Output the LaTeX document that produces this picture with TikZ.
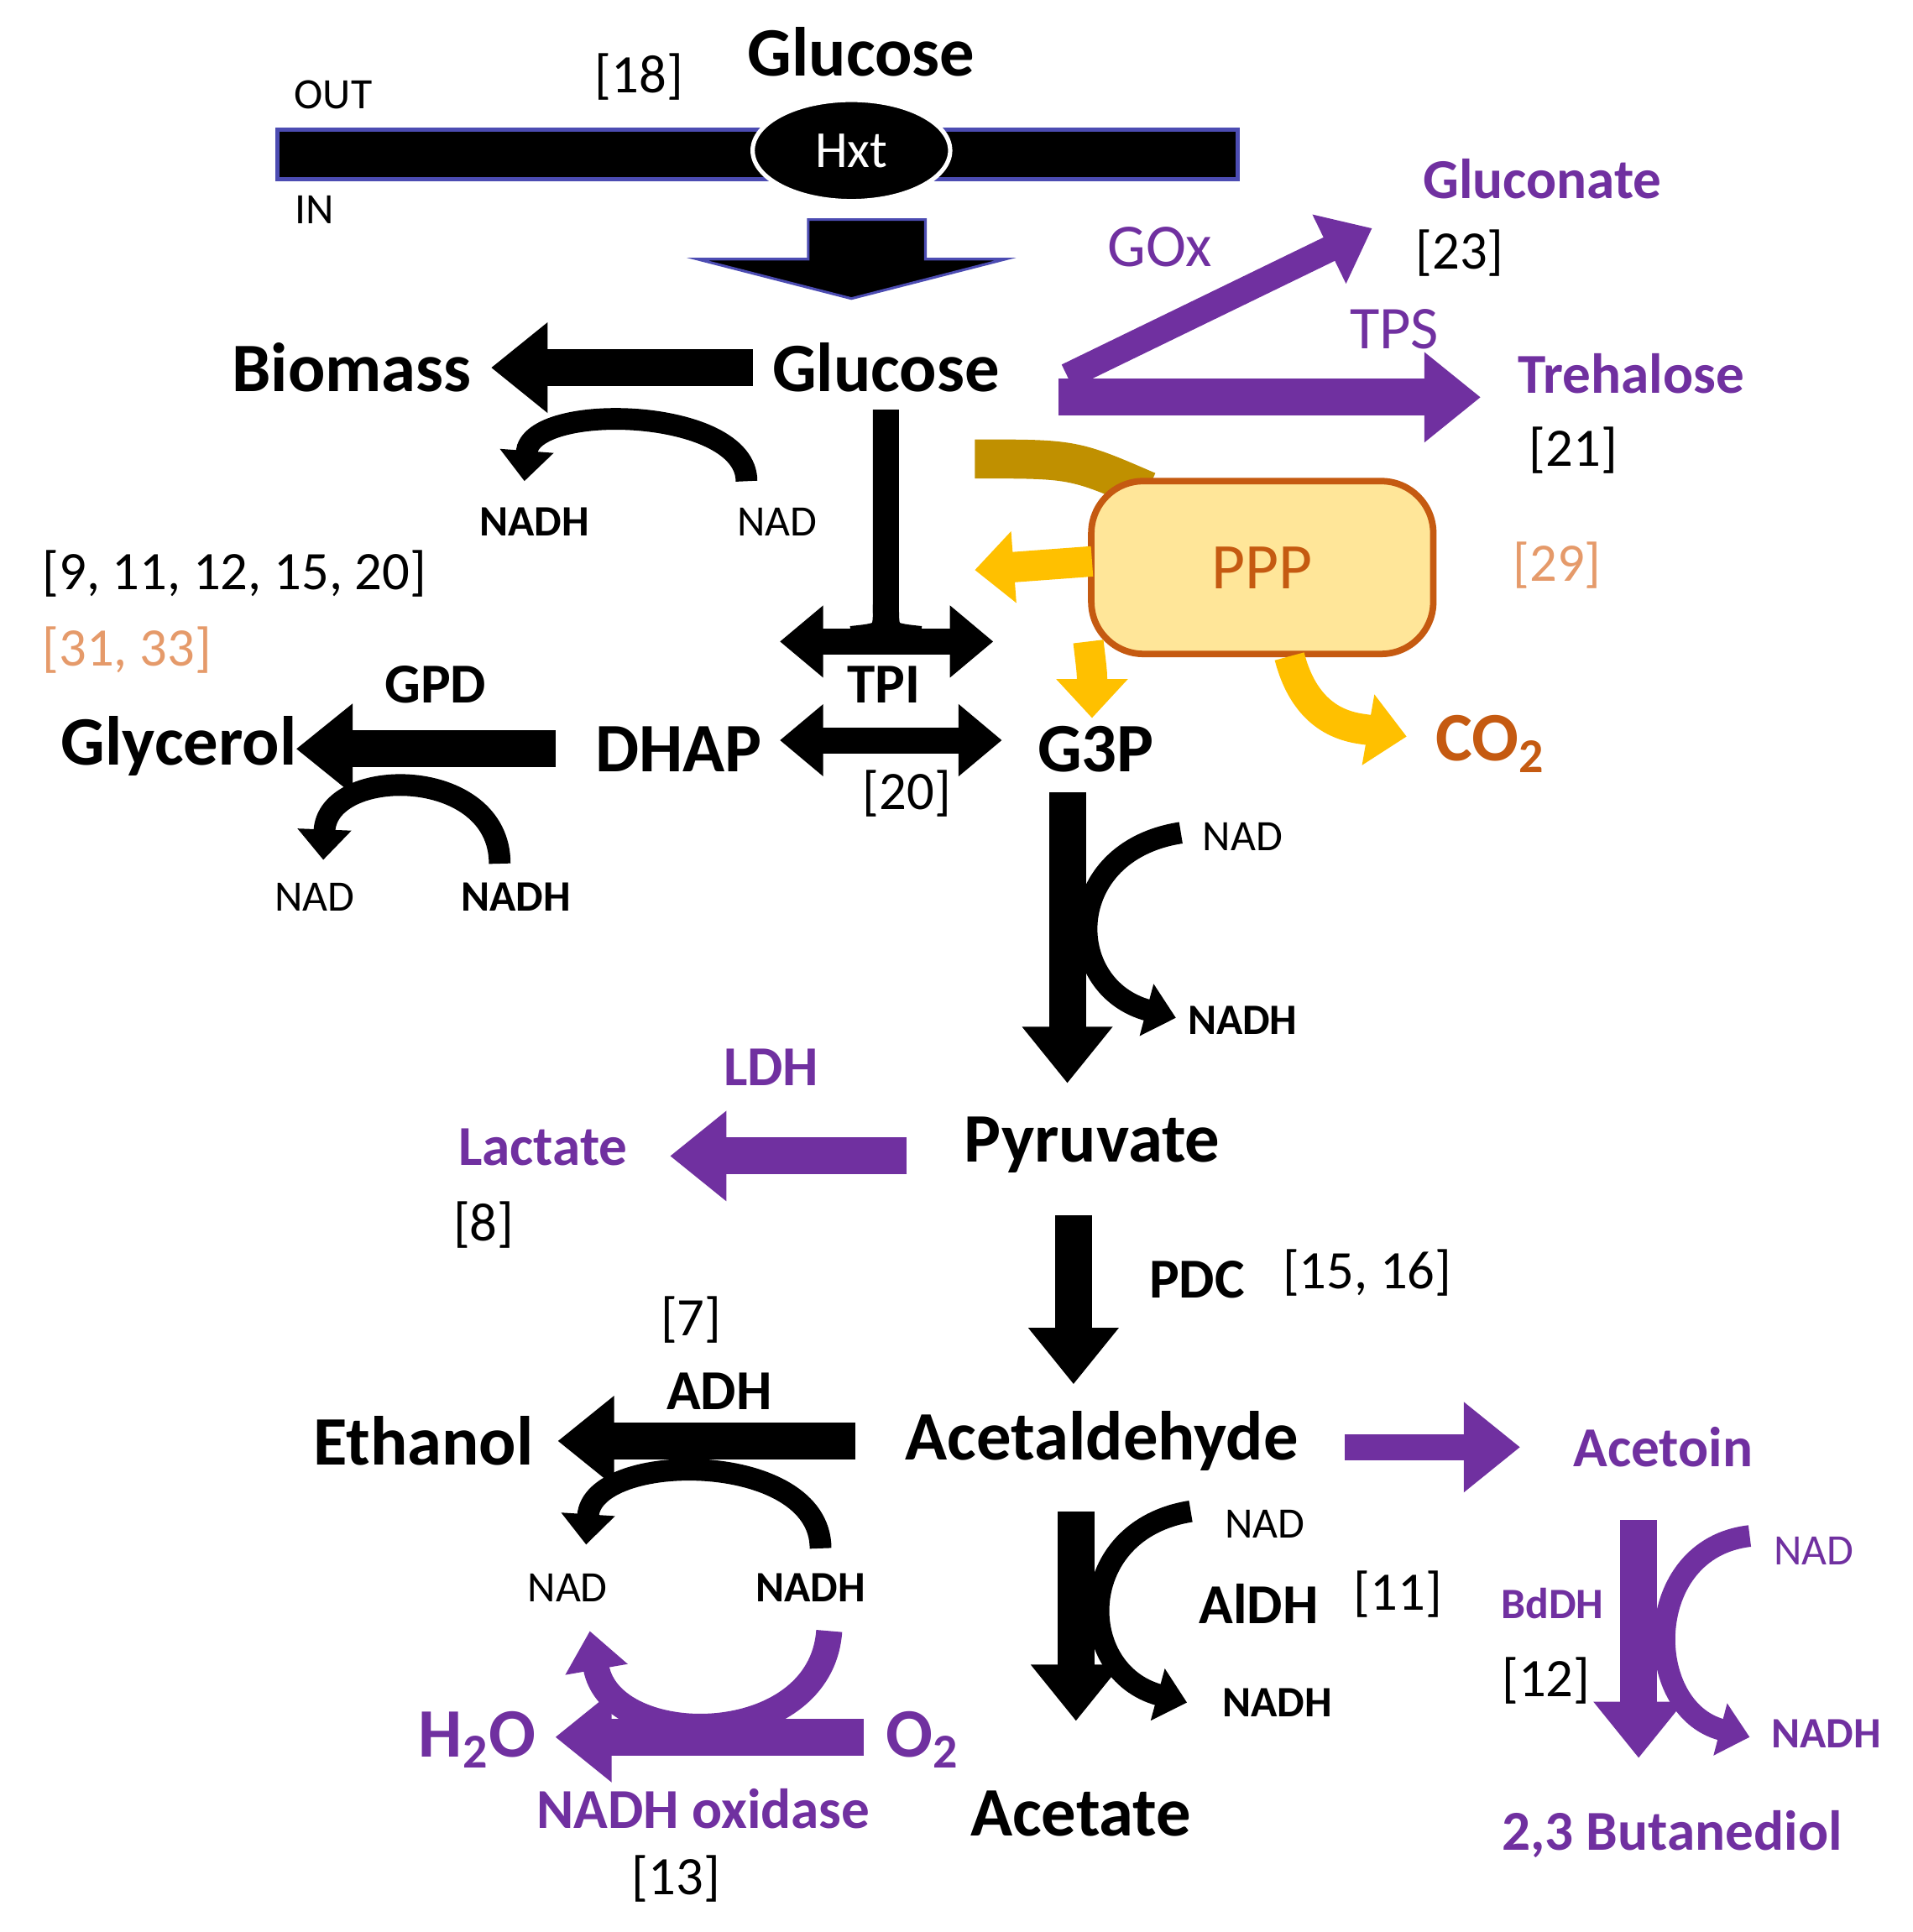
\documentclass[tikz,border=0pt]{standalone}
\usepackage{fontspec}
\setmainfont{Carlito}
\usetikzlibrary{arrows.meta,shapes.geometric}
\definecolor{pur}{HTML}{7030A0}
\definecolor{org}{HTML}{C55A11}
\definecolor{lorg}{HTML}{E59A6A}
\definecolor{gold}{HTML}{FFC000}
\definecolor{dgold}{HTML}{C09000}
\definecolor{pbox}{HTML}{FFE699}
\tikzset{
  big/.style={font=\fontsize{16}{18}\selectfont\bfseries},
  mid/.style={font=\fontsize{12}{14}\selectfont},
  midb/.style={font=\fontsize{13}{15}\selectfont\bfseries},
  sm/.style={font=\fontsize{10}{12}\selectfont},
  smb/.style={font=\fontsize{10}{12}\selectfont\bfseries},
  ref/.style={font=\fontsize{12.5}{14}\selectfont},
  fat/.style={line width=8.5pt,-{Triangle[length=13pt,width=20pt]}},
  fatpur/.style={fat,pur},
  twin/.style={line width=6pt,{Triangle[length=10pt,width=16pt]}-{Triangle[length=10pt,width=16pt]}},
  curvar/.style={line width=5pt,-{Triangle[length=7pt,width=12pt]}},
  orar/.style={line width=7pt,gold,-{Triangle[length=9pt,width=16pt]}},
}
\begin{document}
\begin{tikzpicture}[x=0.01cm,y=-0.01cm]
\useasboundingbox (0,0) rectangle (1550,1566);
% membrane
\draw[fill=black,draw=blue!40!gray,line width=1pt] (225,105) rectangle (1003,145);
\node[ellipse,fill=black,draw=white,line width=1pt,minimum width=1.6cm,minimum height=0.82cm,inner sep=0pt,text=white,mid] (hxt) at (690,122) {Hxt};
\node[sm] (out) at (270,77) {OUT};
\node[sm] (in) at (255,170) {IN};
\node[ref] (r18) at (518,62) {[18]};
\node[big] (glcout) at (698,42) {Glucose};
% big down arrow
\fill[black,draw=blue!40!gray,line width=0.6pt] (655,178)--(750,178)--(750,210)--(815,210)--(690,242)--(565,210)--(655,210)--cycle;
% glucose row
\node[big] (glc) at (718,298) {Glucose};
\node[big] (bio) at (285,298) {Biomass};
\draw[fat] (610,298)--(398,298);
\draw[curvar] (605,390) .. controls (605,330) and (430,325) .. (425,390);
\node[sm] (nad1) at (630,423) {NAD};
\node[smb] (nadh1) at (433,423) {NADH};
\node[ref,anchor=west] (rr1) at (22,465) {[9, 11, 12, 15, 20]};
\node[ref,anchor=west,text=lorg] (rr2) at (22,527) {[31, 33]};
% glucose split
\draw[line width=6pt] (718,332)--(718,490) .. controls (718,515) .. (690,518);
\draw[line width=6pt] (718,490) .. controls (718,515) .. (746,518);
\draw[twin] (632,520)--(805,520);
\node[midb] (tpi) at (716,555) {TPI};
\node[big] (dhap) at (550,607) {DHAP};
\node[big] (g3p) at (888,607) {G3P};
\draw[twin] (632,600)--(812,600);
\node[ref] (r20) at (735,643) {[20]};
% glycerol
\node[big] (gly) at (145,605) {Glycerol};
\draw[fat] (450,607)--(240,607);
\node[midb] (gpd) at (353,555) {GPD};
\draw[curvar] (405,700) .. controls (405,620) and (265,620) .. (262,697);
\node[sm] (nad2) at (255,727) {NAD};
\node[smb] (nadh2) at (418,727) {NADH};
% G3P -> pyruvate
\draw[fat] (865,642)--(865,878);
\draw[curvar] (957,675) .. controls (860,690) and (860,800) .. (953,825);
\node[sm] (nad3) at (1007,678) {NAD};
\node[smb] (nadh3) at (1007,827) {NADH};
\node[big] (pyr) at (885,928) {Pyruvate};
\node[midb,text=pur] (lac) at (440,930) {Lactate};
\draw[fatpur] (735,937)--(543,937);
\node[midb,text=pur] (ldh) at (625,865) {LDH};
\node[ref] (r8) at (392,993) {[8]};
% PDC
\draw[fat] (870,985)--(870,1122);
\node[midb] (pdc) at (970,1037) {PDC};
\node[ref] (r1516) at (1108,1032) {[15, 16]};
\node[big] (acal) at (893,1168) {Acetaldehyde};
\node[big] (eth) at (343,1168) {Ethanol};
\draw[fat] (693,1168)--(452,1168);
\node[midb] (adh) at (583,1128) {ADH};
\node[ref] (r7) at (560,1070) {[7]};
\draw[curvar] (665,1255) .. controls (665,1175) and (480,1175) .. (475,1252);
\node[sm] (nad4) at (460,1287) {NAD};
\node[smb] (nadh4) at (657,1287) {NADH};
% NADH oxidase
\draw[line width=6pt,pur,-{Triangle[length=9pt,width=14pt]}] (672,1322) .. controls (665,1420) and (495,1420) .. (478,1322);
\node[big,text=pur] (h2o) at (387,1410) {H$_\mathbf{2}$O};
\node[big,text=pur] (o2) at (748,1410) {O$_\mathbf{2}$};
\draw[fatpur] (700,1408)--(450,1408);
\node[midb,text=pur] (nox) at (570,1466) {NADH oxidase};
\node[ref] (r13) at (548,1523) {[13]};
% acetate
\draw[fat] (872,1225)--(872,1395);
\draw[curvar] (965,1225) .. controls (870,1240) and (870,1355) .. (962,1380);
\node[sm] (nad5) at (1025,1235) {NAD};
\node[midb] (aldh) at (1020,1300) {AlDH};
\node[ref] (r11) at (1133,1292) {[11]};
\node[smb] (nadh5) at (1035,1380) {NADH};
\node[big] (acet) at (876,1470) {Acetate};
% acetoin
\node[midb,text=pur] (acn) at (1348,1173) {Acetoin};
\draw[fatpur,line width=6pt] (1090,1173)--(1232,1173);
\draw[fatpur] (1328,1232)--(1328,1425);
\draw[curvar,pur] (1418,1245) .. controls (1330,1255) and (1330,1385) .. (1418,1408);
\node[sm,text=pur] (nad6) at (1470,1257) {NAD};
\node[smb,text=pur] (nadh6) at (1480,1405) {NADH};
\node[smb,text=pur] (bddh) at (1258,1300) {BdDH};
\node[ref] (r12) at (1253,1362) {[12]};
\node[midb,text=pur] (btd) at (1355,1487) {2,3 Butanediol};
% gluconate / trehalose
\node[midb,text=pur] (glcn) at (1250,145) {Gluconate};
\node[ref] (r23) at (1183,205) {[23]};
\node[font=\fontsize{14}{16}\selectfont,text=pur] (gox) at (940,200) {GOx};
\node[font=\fontsize{14}{16}\selectfont,text=pur] (tps) at (1130,267) {TPS};
\node[midb,text=pur] (tre) at (1322,303) {Trehalose};
\node[ref] (r21) at (1275,365) {[21]};
\draw[pur,line width=6pt,-{Triangle[length=11pt,width=17pt]}] (865,305)--(1112,185);
\draw[fatpur] (858,322)--(1200,322);
% PPP
\draw[dgold,line width=9pt] (790,372) .. controls (870,372) .. (930,398);
\node[draw=org,line width=1.5pt,fill=pbox,rounded corners=12pt,minimum width=2.77cm,minimum height=1.4cm,text=org,font=\fontsize{15}{17}\selectfont] (ppp) at (1023,460) {PPP};
\node[ref,text=lorg] (r29) at (1262,458) {[29]};
\draw[orar] (885,455) -- (790,462);
\draw[orar] (882,520) .. controls (885,545) .. (885,582);
\draw[orar] (1045,532) .. controls (1060,590) and (1100,590) .. (1140,597);
\node[big,text=org] (co2) at (1208,603) {CO$_\mathbf{2}$};
\end{tikzpicture}
\end{document}
